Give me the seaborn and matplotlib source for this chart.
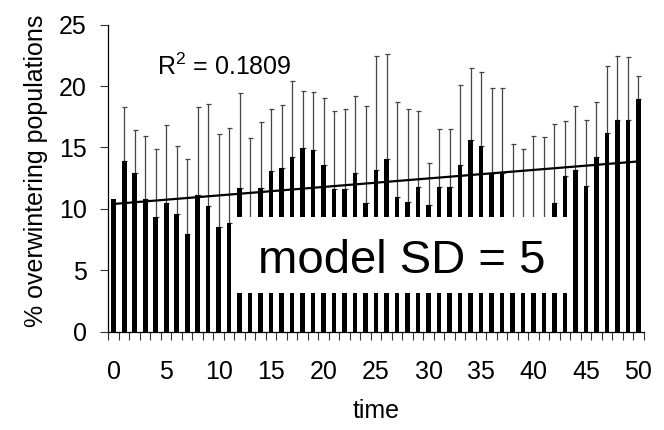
import numpy as np
import pandas as pd
import matplotlib
matplotlib.use('Agg')
import matplotlib.pyplot as plt
from matplotlib.patches import Rectangle
import seaborn as sns

# time steps and mean % of overwintering populations
time = list(range(51))
values = [10.8, 13.9, 12.9, 10.8, 9.35, 10.5, 9.6, 7.95, 11.1, 10.25,
          8.55, 8.85, 11.7, 8.5, 11.7, 13.1, 13.3, 14.2, 14.95, 14.8,
          13.6, 11.6, 11.6, 12.9, 10.5, 13.15, 14.05, 10.95, 10.55, 11.8,
          10.3, 11.8, 11.8, 13.6, 15.6, 15.1, 12.9, 12.9, 8.8, 8.5,
          9.3, 8.9, 10.5, 12.7, 13.15, 11.85, 14.2, 16.2, 17.25, 17.25,
          18.95]
# upper end of each error bar (first bar has none)
whisker_top = [np.nan, 18.27, 16.45, 15.96, 14.88, 16.86, 15.15, 14.07, 18.27, 18.54,
               16.12, 16.61, 19.45, 15.77, 17.05, 18.13, 18.46, 20.43, 19.6, 19.55,
               19.02, 18.0, 18.13, 19.21, 18.37, 22.47, 22.57, 18.72, 18.16, 18.0,
               13.74, 16.53, 16.53, 20.11, 21.49, 21.16, 19.86, 19.86, 15.28, 14.9,
               15.96, 15.88, 16.94, 17.18, 18.4, 17.26, 18.73, 21.6, 22.47, 22.39,
               20.84]
r2_text = 'R$^2$ = 0.1809'
box_text = 'model SD = 5'

df = pd.DataFrame({'time': time, 'pct': values, 'top': whisker_top})
df['err'] = df['top'] - df['pct']

sns.set_style('ticks')
plt.rcParams['font.family'] = ['Liberation Sans', 'DejaVu Sans']
plt.rcParams['mathtext.fontset'] = 'custom'
plt.rcParams['mathtext.rm'] = 'Liberation Sans'
plt.rcParams['mathtext.it'] = 'Liberation Sans'
for k in ['text.color', 'axes.labelcolor', 'xtick.color', 'ytick.color']:
    plt.rcParams[k] = 'black'

fig = plt.figure(figsize=(6.64, 4.30), dpi=100)
ax = fig.add_axes([0.1634, 0.228, 0.806, 0.715])

sns.barplot(data=df, x='time', y='pct', color='black', width=0.44,
            saturation=1, linewidth=0, errorbar=None, ax=ax, zorder=2)

eb = df.dropna(subset=['err'])
ax.errorbar(eb['time'], eb['pct'], yerr=[np.zeros(len(eb)), eb['err']],
            fmt='none', ecolor='#444444', elinewidth=0.9, capsize=1.8,
            capthick=0.9, zorder=1)

# linear trend line
sns.regplot(data=df, x='time', y='pct', scatter=False, ci=None, truncate=True,
            line_kws={'color': 'black', 'lw': 1.6, 'zorder': 4}, ax=ax)

ax.text(0.09, 0.836, r2_text, transform=ax.transAxes, fontsize=18,
        ha='left', va='baseline')

ax.add_patch(Rectangle((0.2325, 0.126), 0.624, 0.249, transform=ax.transAxes,
                       facecolor='white', edgecolor='none', zorder=5))
ax.text(0.5475, 0.193, box_text, transform=ax.transAxes, fontsize=34,
        ha='center', va='baseline', zorder=6)

ax.set_xlim(-0.5, 50.5)
ax.set_ylim(0, 25)
ax.set_xticks(range(0, 51, 5))
ax.set_xticklabels([str(t) for t in range(0, 51, 5)])
ax.set_xticks(np.arange(-0.5, 51, 1), minor=True)
ax.tick_params(axis='x', which='major', length=0, pad=20, labelsize=18)
ax.tick_params(axis='x', which='minor', length=5.8, width=0.8, direction='out', color='#333333')
ax.set_yticks(range(0, 26, 5))
ax.tick_params(axis='y', length=5.8, width=0.8, pad=10, labelsize=18, color='#333333')

for s in ['top', 'right']:
    ax.spines[s].set_visible(False)
for s in ['left', 'bottom']:
    ax.spines[s].set_linewidth(0.9)
    ax.spines[s].set_color('black')

ax.set_xlabel('time', fontsize=18, labelpad=11)
ax.set_ylabel('% overwintering populations', fontsize=18, labelpad=8)
ax.yaxis.label.set_y(0.525)

fig.savefig('out.png', dpi=100)
